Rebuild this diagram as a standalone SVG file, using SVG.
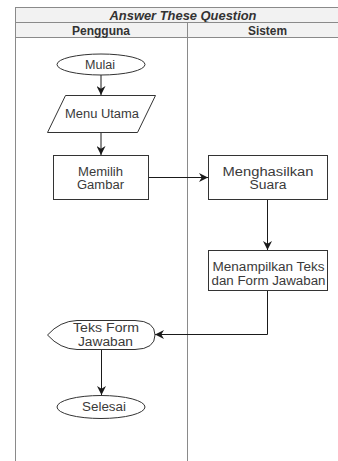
<svg xmlns="http://www.w3.org/2000/svg" width="338" height="461" viewBox="0 0 338 461">
<style>
.lane{fill:none;stroke:#8a8a8a;stroke-width:1}
.hdr{fill:#f2f2f2;stroke:#8a8a8a;stroke-width:1}
.node{fill:#ffffff;stroke:#333333;stroke-width:1}
.t{font-family:"Liberation Sans",Arial,sans-serif;font-size:12px;fill:#3a3a3a;text-anchor:middle}
.h{font-family:"Liberation Sans",Arial,sans-serif;font-size:12px;font-weight:bold;fill:#333333;text-anchor:middle}
.edge{fill:none;stroke:#1a1a1a;stroke-width:1}
</style>
<defs>
<marker id="arr" viewBox="0 0 10 10" refX="10" refY="5" markerWidth="9" markerHeight="9" markerUnits="userSpaceOnUse" orient="auto">
<path d="M0,0 L10,5 L0,10 L3,5 Z" fill="#1a1a1a"/>
</marker>
</defs>
<rect width="338" height="461" fill="#ffffff"/>
<g id="pool">
<rect class="hdr" x="15.5" y="7.5" width="332" height="15"/>
<text class="h" x="183" y="19.5" font-style="italic" textLength="147" lengthAdjust="spacingAndGlyphs">Answer These Question</text>
</g>
<g id="lane-pengguna">
<rect class="hdr" x="15.5" y="22.5" width="172" height="15"/>
<text class="h" x="101" y="34.5" textLength="58" lengthAdjust="spacingAndGlyphs">Pengguna</text>
<line class="lane" x1="15.5" y1="37" x2="15.5" y2="461"/>
</g>
<g id="lane-sistem">
<rect class="hdr" x="187.5" y="22.5" width="160" height="15"/>
<text class="h" x="267.5" y="34.5" textLength="39" lengthAdjust="spacingAndGlyphs">Sistem</text>
<line class="lane" x1="187.5" y1="37" x2="187.5" y2="461"/>
</g>
<g id="edges">
<path class="edge" d="M101,75 L101,95" marker-end="url(#arr)"/>
<path class="edge" d="M101,132 L101,155" marker-end="url(#arr)"/>
<path class="edge" d="M149,177.5 L208,177.5" marker-end="url(#arr)"/>
<path class="edge" d="M267.5,199 L267.5,250" marker-end="url(#arr)"/>
<path class="edge" d="M267.5,290 L267.5,334.5 L155,334.5" marker-end="url(#arr)"/>
<path class="edge" d="M101.5,350 L101.5,395" marker-end="url(#arr)"/>
</g>
<g id="mulai">
<ellipse class="node" cx="101" cy="64.5" rx="44" ry="10.5"/>
<text class="t" x="100" y="68.5" textLength="30" lengthAdjust="spacingAndGlyphs">Mulai</text>
</g>
<g id="menu-utama">
<path class="node" d="M65.5,95.5 L155.5,95.5 L137.5,132.5 L47.5,132.5 Z"/>
<text class="t" x="102" y="118" textLength="74" lengthAdjust="spacingAndGlyphs">Menu Utama</text>
</g>
<g id="memilih-gambar">
<rect class="node" x="53.5" y="155.5" width="95" height="44"/>
<text class="t" x="100.5" y="175.5" textLength="45" lengthAdjust="spacingAndGlyphs">Memilih</text>
<text class="t" x="100.5" y="188.5" textLength="47" lengthAdjust="spacingAndGlyphs">Gambar</text>
</g>
<g id="menghasilkan-suara">
<rect class="node" x="208.5" y="155.5" width="119" height="44"/>
<text class="t" x="268" y="175.5" textLength="91" lengthAdjust="spacingAndGlyphs">Menghasilkan</text>
<text class="t" x="268" y="188.5" textLength="37" lengthAdjust="spacingAndGlyphs">Suara</text>
</g>
<g id="menampilkan">
<rect class="node" x="208.5" y="250.5" width="119" height="40"/>
<text class="t" x="268.5" y="271" textLength="112" lengthAdjust="spacingAndGlyphs">Menampilkan Teks</text>
<text class="t" x="268.5" y="284.5" textLength="114" lengthAdjust="spacingAndGlyphs">dan Form Jawaban</text>
</g>
<g id="teks-form">
<path class="node" d="M47.5,335 Q60,321 77,320.5 L135,320.5 Q155,321 155,335 Q155,349 135,349.5 L77,349.5 Q60,349 47.5,335 Z"/>
<text class="t" x="106" y="332" textLength="66" lengthAdjust="spacingAndGlyphs">Teks Form</text>
<text class="t" x="105.5" y="345.5" textLength="55" lengthAdjust="spacingAndGlyphs">Jawaban</text>
</g>
<g id="selesai">
<ellipse class="node" cx="101" cy="407" rx="44" ry="11.5"/>
<text class="t" x="104" y="411" textLength="44" lengthAdjust="spacingAndGlyphs">Selesai</text>
</g>
</svg>
